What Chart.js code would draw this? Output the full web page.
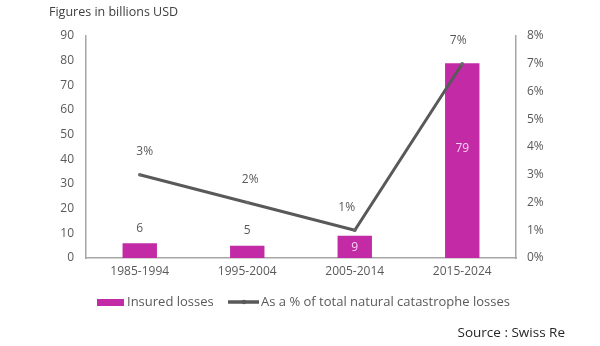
<!DOCTYPE html>
<html><head><meta charset="utf-8">
<script src="https://cdn.jsdelivr.net/npm/chart.js@4/dist/chart.umd.min.js"></script>
<style>html,body{margin:0;padding:0;background:#fff;}#wrap{position:relative;width:600px;height:346px;}</style>
</head><body><div id="wrap"><canvas id="c" width="600" height="346"></canvas></div>
<script>
const categories = ["1985-1994", "1995-2004", "2005-2014", "2015-2024"];
const insuredLosses = [6, 5, 9, 79];
const pctOfTotal = [3, 2, 1, 7];
const leftTicks = [0, 10, 20, 30, 40, 50, 60, 70, 80, 90];
const rightTicks = [0, 1, 2, 3, 4, 5, 6, 7, 8];
const barLabel = "Insured losses";
const lineLabel = "As a % of total natural catastrophe losses";
const titleText = "Figures in billions USD";
const sourceText = "Source : Swiss Re";

const FONT = "'Open Sans', sans-serif";
const BAR = "#c22aa6";
const LINE = "#595959";
const AXIS = "#a6a6a6";
const TXT = "#595959";
const LINE_LABEL_DX = [5, 3, -8, -4];

const labelsPlugin = {
  id: 'labelsPlugin',
  afterDatasetsDraw(chart) {
    const ctx = chart.ctx;
    ctx.save();
    ctx.font = "12px " + FONT;
    ctx.textAlign = 'center';
    ctx.textBaseline = 'middle';
    const bm = chart.getDatasetMeta(0);
    bm.data.forEach((el, i) => {
      const v = insuredLosses[i];
      if (v >= 9) {
        ctx.fillStyle = "#f6d2ef";
        const mid = (el.y + el.base) / 2;
        const y = v > 40 ? mid - 12 : mid + 1;
        ctx.fillText(String(v), el.x, y);
      } else {
        ctx.fillStyle = TXT;
        ctx.fillText(String(v), el.x, el.y - 15);
      }
    });
    const lm = chart.getDatasetMeta(1);
    ctx.fillStyle = TXT;
    lm.data.forEach((el, i) => {
      ctx.fillText(pctOfTotal[i] + "%", el.x + LINE_LABEL_DX[i], el.y - 23);
    });
    ctx.restore();
  },
  afterDraw(chart) {
    const ctx = chart.ctx;
    ctx.save();
    ctx.font = "12.5px " + FONT;
    ctx.fillStyle = "#404040";
    ctx.textBaseline = 'middle';
    ctx.textAlign = 'left';
    ctx.fillText(titleText, 49, 12);
    // legend
    const ly = 302;
    ctx.fillStyle = BAR;
    ctx.fillRect(97, 299, 27, 7);
    ctx.fillStyle = TXT;
    ctx.font = "13px " + FONT;
    ctx.fillText(barLabel, 127, ly);
    ctx.strokeStyle = LINE;
    ctx.lineWidth = 3.5;
    ctx.beginPath(); ctx.moveTo(228, ly); ctx.lineTo(259, ly); ctx.stroke();
    ctx.beginPath(); ctx.arc(244, ly, 2.2, 0, Math.PI * 2); ctx.fillStyle = LINE; ctx.fill();
    ctx.fillStyle = TXT;
    ctx.fillText(lineLabel, 261, ly);
    ctx.textAlign = 'right';
    ctx.fillStyle = "#262626";
    ctx.font = "13.5px " + FONT;
    ctx.fillText(sourceText, 565, 333);
    ctx.restore();
  }
};

new Chart(document.getElementById('c'), {
  data: {
    labels: categories,
    datasets: [
      { type: 'bar', label: barLabel, data: insuredLosses, backgroundColor: BAR, yAxisID: 'y', order: 2,
        barPercentage: 0.32, categoryPercentage: 1.0 },
      { type: 'line', label: lineLabel, data: pctOfTotal, borderColor: LINE, backgroundColor: LINE, borderWidth: 3,
        pointRadius: 1.8, pointBorderWidth: 0, pointBackgroundColor: "#6a6a6a", yAxisID: 'y1', order: 1, tension: 0 }
    ]
  },
  options: {
    responsive: false,
    animation: false,
    devicePixelRatio: 1,
    layout: { padding: { top: 36, left: 0, right: 0, bottom: 0 } },
    plugins: { legend: { display: false }, tooltip: { enabled: false } },
    scales: {
      x: {
        grid: { display: false, drawTicks: false },
        border: { display: true, color: AXIS, width: 1.5 },
        ticks: { color: TXT, font: { family: FONT, size: 12 }, padding: 6, maxRotation: 0 },
        afterFit(s) { s.height = 88; }
      },
      y: {
        position: 'left', min: 0, max: 90,
        afterBuildTicks(s) { s.ticks = leftTicks.map(v => ({ value: v })); },
        grid: { display: false, drawTicks: false },
        border: { display: true, color: AXIS, width: 1.5 },
        ticks: { color: TXT, font: { family: FONT, size: 12 }, padding: 12 },
        afterFit(s) { s.width = 86; }
      },
      y1: {
        position: 'right', min: 0, max: 8,
        afterBuildTicks(s) { s.ticks = rightTicks.map(v => ({ value: v })); },
        grid: { display: false, drawTicks: false },
        border: { display: true, color: AXIS, width: 1.5 },
        ticks: { color: TXT, font: { family: FONT, size: 12 }, padding: 11, callback: v => v + "%" },
        afterFit(s) { s.width = 84; }
      }
    }
  },
  plugins: [labelsPlugin]
});
</script></body></html>
